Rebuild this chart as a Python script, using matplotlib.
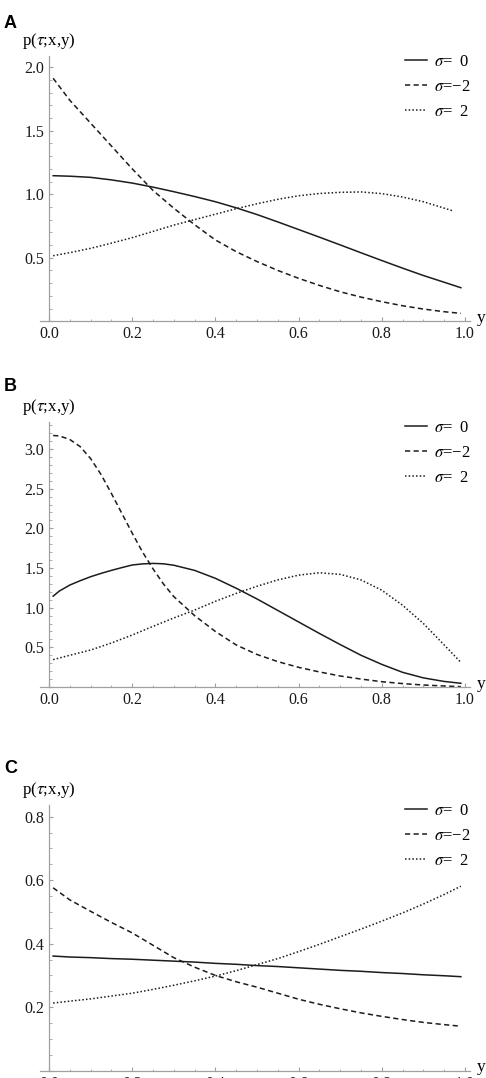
# Three stacked panels: p(tau;x,y) against y for sigma = 0, -2, 2
import numpy as np
import matplotlib as mpl; mpl.use('Agg')
import matplotlib.pyplot as plt
from matplotlib.ticker import MultipleLocator

mpl.rcParams.update({
    'font.family':'serif','font.serif':['Liberation Serif','DejaVu Serif'],'mathtext.fontset':'stix',
    'axes.spines.top':False,'axes.spines.right':False,'font.size':11,
})
AX='#a0a0a0'; LN='#1c1c1c'

# sample positions along y
yy=[0.01,0.05,0.1,0.15,0.2,0.25,0.3,0.35,0.4,0.45,0.5,0.55,0.6,0.65,0.7,0.75,0.8,0.85,0.9,0.95,0.99]
yy_dotA=[0.01,0.05,0.1,0.15,0.2,0.25,0.3,0.35,0.4,0.45,0.5,0.55,0.6,0.65,0.7,0.75,0.8,0.85,0.9,0.97]
yy_fine=[0.01,0.025,0.05,0.075,0.1,0.125,0.15,0.175,0.2,0.225,0.25,0.275,0.3,0.35,0.4,0.45,0.5,0.55,0.6,0.65,0.7,0.75,0.8,0.85,0.9,0.95,0.99]

# panel A
A_s0=[1.146,1.142,1.133,1.113,1.088,1.056,1.02,0.982,0.941,0.893,0.840,0.782,0.722,0.662,0.601,0.539,0.478,0.418,0.360,0.307,0.264]
A_sm2=[1.913,1.74,1.56,1.38,1.20,1.03,0.89,0.76,0.64,0.548,0.47,0.40,0.338,0.282,0.232,0.19,0.154,0.122,0.096,0.075,0.062]
A_sp2=[0.516,0.54,0.574,0.615,0.658,0.707,0.757,0.80,0.843,0.886,0.925,0.96,0.988,1.006,1.015,1.018,1.005,0.978,0.941,0.87]
# panel B
B_s0=[1.145,1.21,1.285,1.34,1.39,1.432,1.47,1.505,1.538,1.552,1.558,1.553,1.535,1.47,1.37,1.245,1.11,0.965,0.82,0.675,0.535,0.40,0.285,0.185,0.115,0.07,0.047]
B_sm2=[3.17,3.165,3.12,3.03,2.88,2.68,2.44,2.19,1.94,1.70,1.49,1.30,1.14,0.90,0.70,0.53,0.41,0.32,0.248,0.19,0.139,0.10,0.067,0.043,0.025,0.013,0.005]
B_sp2=[0.345,0.40,0.466,0.555,0.655,0.765,0.87,0.97,1.08,1.18,1.27,1.35,1.41,1.44,1.42,1.35,1.22,1.03,0.80,0.53,0.31]
# panel C
C_s0=[0.361,0.358,0.356,0.353,0.351,0.348,0.345,0.342,0.338,0.335,0.331,0.328,0.324,0.320,0.316,0.313,0.309,0.306,0.302,0.299,0.296]
C_sm2=[0.576,0.538,0.502,0.467,0.434,0.395,0.356,0.326,0.30,0.28,0.263,0.244,0.225,0.209,0.195,0.182,0.171,0.161,0.152,0.145,0.14]
C_sp2=[0.213,0.219,0.226,0.235,0.244,0.256,0.269,0.283,0.298,0.315,0.334,0.353,0.375,0.398,0.422,0.446,0.471,0.497,0.525,0.555,0.581]

labels=['$\\sigma$=  0','$\\sigma$=\u22122','$\\sigma$=  2']
panels=[
    ('A',[0.0823,0.7020,0.8848,0.2460],2.088,0.5,0.1,[(yy,A_s0),(yy,A_sm2),(yy_dotA,A_sp2)],23),
    ('B',[0.0823,0.3627,0.8848,0.2461],3.344,0.5,0.1,[(yy_fine,B_s0),(yy_fine,B_sm2),(yy,B_sp2)],386.7),
    ('C',[0.0823,0.0068,0.8848,0.2465],0.837,0.2,0.05,[(yy,C_s0),(yy,C_sm2),(yy,C_sp2)],768.3),
]
styles=['-',(0,(3.4,2.2)),(0,(1.0,1.4))]

fig=plt.figure(figsize=(4.86,10.78),dpi=100)
for letter,rect,ytop,ymaj,ymin,series,ly in panels:
    ax=fig.add_axes(rect)
    for (x,v),ls,lab in zip(series,styles,labels):
        ax.plot(x,v,color=LN,lw=1.1,ls=ls,label=lab)
    ax.set_xlim(-0.0216,1.012); ax.set_ylim(0,ytop)
    ax.spines['left'].set_position(('data',0))
    for s in ('left','bottom'):
        ax.spines[s].set_color(AX); ax.spines[s].set_linewidth(0.9)
    ax.xaxis.set_major_locator(MultipleLocator(0.2)); ax.xaxis.set_minor_locator(MultipleLocator(0.05))
    ax.yaxis.set_major_locator(MultipleLocator(ymaj)); ax.yaxis.set_minor_locator(MultipleLocator(ymin))
    ax.tick_params(which='both',direction='in',color=AX,labelsize=11.5,labelcolor='#1a1a1a')
    ax.tick_params(which='major',length=3.2,width=0.8,pad=3.5)
    ax.tick_params(which='minor',length=1.8,width=0.6)
    ax.xaxis.set_major_formatter(mpl.ticker.FormatStrFormatter('%.1f'))
    ax.yaxis.set_major_formatter(mpl.ticker.FuncFormatter(lambda v,p:'' if abs(v)<1e-9 else f'{v:.1f}'))
    ax.text(-0.0426,1.056,'p($\\tau$;x,y)',transform=ax.transAxes,ha='left',va='center',fontsize=12.2)
    ax.text(1.0256,0.012,'y',transform=ax.transAxes,ha='center',va='center',fontsize=12.5)
    ax.legend(loc='upper right',bbox_to_anchor=(1.0,1.008),frameon=False,fontsize=12,borderpad=0,
              borderaxespad=0,handlelength=1.3,handletextpad=0.4,labelspacing=0.55)
    fig.text(4/486,1-ly/1078,letter,fontsize=13,fontweight='bold',family='Liberation Sans',va='center',ha='left')

fig.savefig('out.png',dpi=100)
